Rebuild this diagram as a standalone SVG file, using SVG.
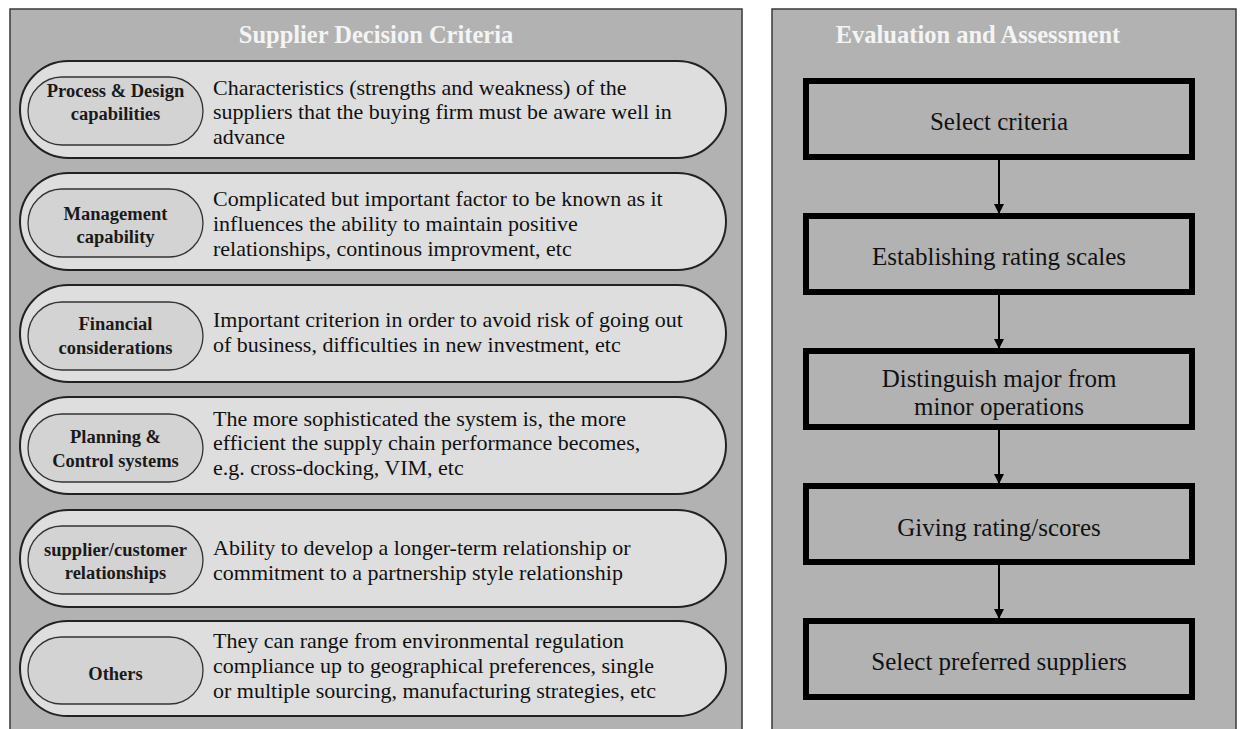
<svg xmlns="http://www.w3.org/2000/svg" width="1241" height="729" viewBox="0 0 1241 729">
<style>
.panel{fill:#b2b2b2;stroke:#3a3a3a;stroke-width:1.5}
.title{font-family:"Liberation Serif",serif;font-weight:bold;font-size:24.5px;fill:#f4f4f4}
.outer{fill:#dedede;stroke:#222;stroke-width:2}
.inner{fill:#d3d3d3;stroke:#333;stroke-width:1.3}
.lbl{font-family:"Liberation Serif",serif;font-weight:bold;font-size:18.5px;fill:#1a1a1a;text-anchor:middle}
.desc{font-family:"Liberation Serif",serif;font-size:22px;fill:#111}
.box{fill:#b2b2b2;stroke:#000;stroke-width:6}
.btxt{font-family:"Liberation Serif",serif;font-size:25px;fill:#111;text-anchor:middle}
.conn{stroke:#000;stroke-width:2;fill:none}
</style>
<defs>
<marker id="arr" markerWidth="10" markerHeight="10" refX="9" refY="5" orient="auto" markerUnits="userSpaceOnUse">
<path d="M0,0 L10,5 L0,10 Z" fill="#000"/>
</marker>
</defs>
<rect width="1241" height="729" fill="#fff"/>
<g id="panel-left">
<rect class="panel" x="10" y="9" width="732" height="730"/>
<text class="title" x="376" y="43" text-anchor="middle">Supplier Decision Criteria</text>
</g>
<g id="panel-right">
<rect class="panel" x="772" y="9" width="464" height="730"/>
<text class="title" x="978" y="43" text-anchor="middle">Evaluation and Assessment</text>
</g>
<g id="c1">
<rect class="outer" x="20" y="61" width="706" height="97" rx="48.5"/>
<rect class="inner" x="28" y="77" width="175" height="68" rx="34"/>
<text class="lbl" x="115.5" y="97">Process &amp; Design</text>
<text class="lbl" x="115.5" y="120">capabilities</text>
<text class="desc" x="213" y="95">Characteristics (strengths and weakness) of the</text>
<text class="desc" x="213" y="119">suppliers that the buying firm must be aware well in</text>
<text class="desc" x="213" y="144">advance</text>
</g>
<g id="c2">
<rect class="outer" x="20" y="173" width="706" height="97" rx="48.5"/>
<rect class="inner" x="28" y="189" width="175" height="68" rx="34"/>
<text class="lbl" x="115.5" y="220">Management</text>
<text class="lbl" x="115.5" y="243">capability</text>
<text class="desc" x="213" y="206">Complicated but important factor to be known as it</text>
<text class="desc" x="213" y="231">influences the ability to maintain positive</text>
<text class="desc" x="213" y="256">relationships, continous improvment, etc</text>
</g>
<g id="c3">
<rect class="outer" x="20" y="285" width="706" height="97" rx="48.5"/>
<rect class="inner" x="28" y="302" width="175" height="68" rx="34"/>
<text class="lbl" x="115.5" y="330">Financial</text>
<text class="lbl" x="115.5" y="354">considerations</text>
<text class="desc" x="213" y="327">Important criterion in order to avoid risk of going out</text>
<text class="desc" x="213" y="352">of business, difficulties in new investment, etc</text>
</g>
<g id="c4">
<rect class="outer" x="20" y="397" width="706" height="97" rx="48.5"/>
<rect class="inner" x="28" y="414" width="175" height="68" rx="34"/>
<text class="lbl" x="115.5" y="443">Planning &amp;</text>
<text class="lbl" x="115.5" y="467">Control systems</text>
<text class="desc" x="213" y="426">The more sophisticated the system is, the more</text>
<text class="desc" x="213" y="450">efficient the supply chain performance becomes,</text>
<text class="desc" x="213" y="475">e.g. cross-docking, VIM, etc</text>
</g>
<g id="c5">
<rect class="outer" x="20" y="510" width="706" height="97" rx="48.5"/>
<rect class="inner" x="28" y="526" width="175" height="68" rx="34"/>
<text class="lbl" x="115.5" y="556">supplier/customer</text>
<text class="lbl" x="115.5" y="579">relationships</text>
<text class="desc" x="213" y="555">Ability to develop a longer-term relationship or</text>
<text class="desc" x="213" y="580">commitment to a partnership style relationship</text>
</g>
<g id="c6">
<rect class="outer" x="20" y="621" width="706" height="95" rx="47.5"/>
<rect class="inner" x="28" y="637" width="175" height="67" rx="33.5"/>
<text class="lbl" x="115.5" y="680">Others</text>
<text class="desc" x="213" y="648">They can range from environmental regulation</text>
<text class="desc" x="213" y="673">compliance up to geographical preferences, single</text>
<text class="desc" x="213" y="698">or multiple sourcing, manufacturing strategies, etc</text>
</g>
<g id="s1">
<rect class="box" x="806" y="81" width="386" height="76"/>
<text class="btxt" x="999" y="130">Select criteria</text>
</g>
<g id="s2">
<rect class="box" x="806" y="216" width="386" height="76"/>
<text class="btxt" x="999" y="265">Establishing rating scales</text>
</g>
<g id="s3">
<rect class="box" x="806" y="351" width="386" height="76"/>
<text class="btxt" x="999" y="387">Distinguish major from</text>
<text class="btxt" x="999" y="415">minor operations</text>
</g>
<g id="s4">
<rect class="box" x="806" y="486" width="386" height="76"/>
<text class="btxt" x="999" y="536">Giving rating/scores</text>
</g>
<g id="s5">
<rect class="box" x="806" y="621" width="386" height="76"/>
<text class="btxt" x="999" y="670">Select preferred suppliers</text>
</g>
<g id="connectors">
<line class="conn" x1="999" y1="160" x2="999" y2="213" marker-end="url(#arr)"/>
<line class="conn" x1="999" y1="295" x2="999" y2="348" marker-end="url(#arr)"/>
<line class="conn" x1="999" y1="430" x2="999" y2="483" marker-end="url(#arr)"/>
<line class="conn" x1="999" y1="565" x2="999" y2="618" marker-end="url(#arr)"/>
</g>
</svg>
